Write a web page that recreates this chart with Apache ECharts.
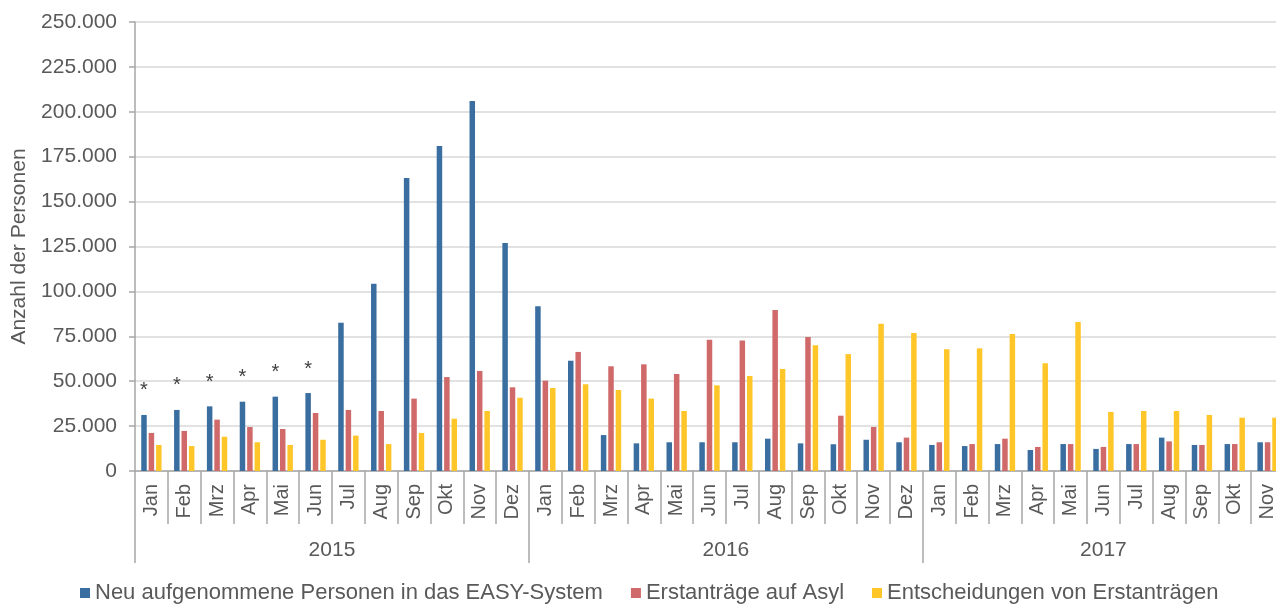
<!DOCTYPE html>
<html>
<head>
<meta charset="utf-8">
<script src="https://cdn.jsdelivr.net/npm/echarts@6/dist/echarts.min.js"></script>
<style>
  html, body { margin: 0; padding: 0; background: #fff; }
  #main { width: 1276px; height: 604px; }
</style>
</head>
<body>
<div id="main"></div>
<script>
// Monate Jan 2015 - Nov 2017
const months = ['Jan','Feb','Mrz','Apr','Mai','Jun','Jul','Aug','Sep','Okt','Nov','Dez',
  'Jan','Feb','Mrz','Apr','Mai','Jun','Jul','Aug','Sep','Okt','Nov','Dez',
  'Jan','Feb','Mrz','Apr','Mai','Jun','Jul','Aug','Sep','Okt','Nov'];
const years = ['2015', '2016', '2017'];
const yearMonths = [12, 12, 11];

const easy = [31200, 34000, 36000, 38600, 41400, 43400, 82600, 104300, 163100, 181000, 206000, 127000,
  91700, 61400, 20000, 15400, 16000, 16000, 16000, 18000, 15400, 14900, 17400, 16000,
  14500, 13900, 15000, 11700, 15000, 12300, 15000, 18600, 14500, 15000, 16000];
const erstantraege = [21200, 22300, 28600, 24500, 23400, 32300, 34000, 33400, 40300, 52300, 55700, 46600,
  50300, 66300, 58300, 59400, 54000, 73100, 72600, 89600, 74600, 30800, 24500, 18600,
  16000, 15000, 18000, 13400, 15000, 13400, 15000, 16500, 14500, 15000, 16000];
const entscheidungen = [14500, 13900, 19100, 16000, 14500, 17400, 19700, 15000, 21200, 29100, 33400, 40800,
  46200, 48300, 45100, 40300, 33400, 47700, 52900, 56800, 70000, 65100, 82000, 76800,
  67800, 68300, 76300, 60000, 83000, 32900, 33400, 33400, 31200, 29700, 29700];
// Sternchen über den ersten sechs Monaten
const starred = [true, true, true, true, true, true];

const yTicks = { min: 0, max: 250000, step: 25000 };
const names = ['Neu aufgenommene Personen in das EASY-System', 'Erstanträge auf Asyl', 'Entscheidungen von Erstanträgen'];

// Jahresachse: halbe Monatsschritte, damit die Jahreszahl mittig steht
const yearAxisData = [];
const yearTicks = {};
let start = 0;
for (let i = 0; i <= months.length * 2; i++) yearAxisData.push('');
years.forEach((y, i) => {
  yearTicks[start * 2] = true;
  yearAxisData[start * 2 + yearMonths[i]] = y;
  start += yearMonths[i];
});

const fmt = v => String(v).replace(/\B(?=(\d{3})+(?!\d))/g, '.');
const grey = '#595959';
const lineGrey = '#a6a6a6';
const font = 'Liberation Sans, Arial, sans-serif';

const chart = echarts.init(document.getElementById('main'), null, { renderer: 'canvas' });
chart.setOption({
  animation: false,
  textStyle: { fontFamily: font },
  grid: { left: 135, top: 22, width: 1149, height: 449, outerBoundsMode: 'none', containLabel: false },
  legend: {
    top: 577,
    left: 75,
    icon: 'rect',
    itemWidth: 10,
    itemHeight: 10,
    itemGap: 28,
    textStyle: { fontSize: 22, color: grey, fontFamily: font },
    data: names
  },
  xAxis: [
    {
      type: 'category',
      data: months,
      axisLine: { lineStyle: { color: lineGrey, width: 1.5 } },
      axisTick: { show: true, interval: 0, length: 53, lineStyle: { color: lineGrey, width: 1.5 } },
      axisLabel: { interval: 0, rotate: 90, margin: 13, fontSize: 20, color: grey, fontFamily: font }
    },
    {
      type: 'category',
      position: 'bottom',
      boundaryGap: false,
      data: yearAxisData,
      axisLine: { show: false },
      axisTick: { show: true, length: 92, interval: idx => !!yearTicks[idx], lineStyle: { color: lineGrey, width: 1.5 } },
      axisLabel: { interval: 0, margin: 69, fontSize: 21, color: grey, fontFamily: font }
    }
  ],
  yAxis: {
    type: 'value',
    min: yTicks.min,
    max: yTicks.max,
    interval: yTicks.step,
    name: 'Anzahl der Personen',
    nameLocation: 'middle',
    nameGap: 99,
    nameTextStyle: { fontSize: 21, color: grey, fontFamily: font },
    axisLine: { show: true, lineStyle: { color: lineGrey, width: 1.5 } },
    axisTick: { show: true, length: 6, lineStyle: { color: lineGrey, width: 1.5 } },
    axisLabel: { fontSize: 21, color: grey, margin: 18, formatter: fmt, fontFamily: font },
    splitLine: { lineStyle: { color: '#d9d9d9', width: 1.5 } }
  },
  series: [
    {
      name: names[0],
      type: 'bar',
      barWidth: 5.5,
      barGap: '35%',
      itemStyle: { color: '#3b6ea0' },
      label: { show: false, position: 'top', distance: 14, formatter: '*', fontSize: 20, color: '#404040', fontFamily: font },
      data: easy.map((v, i) => starred[i] ? { value: v, label: { show: true } } : v)
    },
    {
      name: names[1],
      type: 'bar',
      barWidth: 5.5,
      barGap: '35%',
      itemStyle: { color: '#d06a6a' },
      data: erstantraege
    },
    {
      name: names[2],
      type: 'bar',
      barWidth: 5.5,
      barGap: '35%',
      itemStyle: { color: '#ffc62a' },
      data: entscheidungen
    }
  ]
});
</script>
</body>
</html>
